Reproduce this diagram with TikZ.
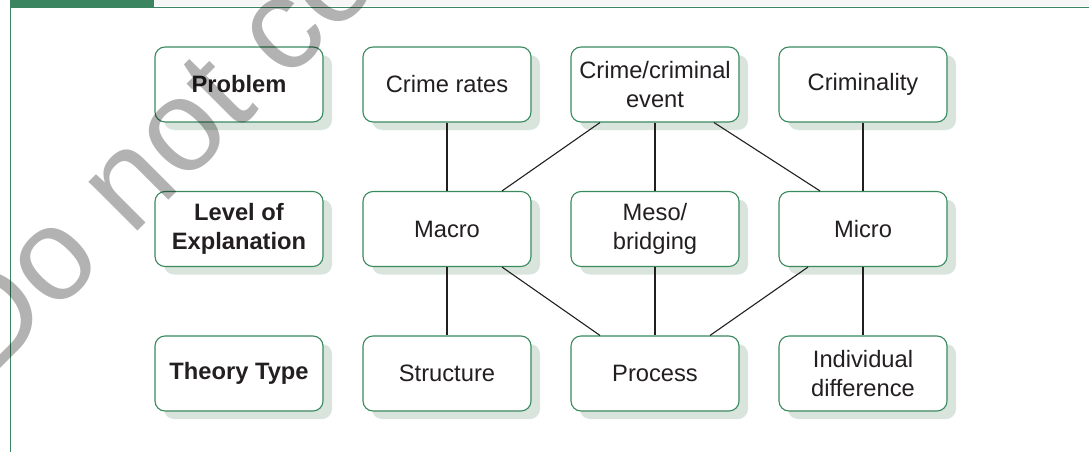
\documentclass[tikz,border=0pt]{standalone}
\usepackage{fontspec}
\setmainfont{Liberation Sans}
\usetikzlibrary{calc,shadows}
\definecolor{framegreen}{HTML}{3B8560}
\definecolor{boxgreen}{HTML}{3A8A5E}
\definecolor{shadowgreen}{HTML}{D9E5DC}
\definecolor{inkdark}{HTML}{231F20}
\tikzset{
  cell/.style={draw=boxgreen, line width=1.1pt, fill=white, rounded corners=10pt,
    minimum width=168pt, minimum height=75pt, inner sep=0pt, align=center,
    text=inkdark, font=\fontsize{23.7}{28.5}\selectfont,
    drop shadow={shadow xshift=9pt, shadow yshift=-8pt, fill=shadowgreen, opacity=1}},
  rowhead/.style={cell, font=\fontsize{23.7}{29}\selectfont\bfseries},
  link/.style={draw=inkdark, line width=1.1pt}
}
\begin{document}
\begin{tikzpicture}[x=1pt,y=-1pt]
  \useasboundingbox (0,0) rectangle (1089,452);
  \clip (0,0) rectangle (1089,452);
  \fill[white] (0,0) rectangle (1089,452);

  % frame: tab, top rule and left rule
  \fill[gray!7] (154,0) rectangle (1089,6.5);
  \fill[framegreen] (10,0) rectangle (154,8.5);
  \draw[framegreen, line width=1.6pt] (154,7.6) -- (1089,7.6);
  \draw[framegreen, line width=1pt] (10.6,0) -- (10.6,452);

  % row headings
  \node[rowhead] (problem) at (239,84.5) {Problem};
  \node[rowhead] (level)   at (239,229)  {Level of\\Explanation};
  \node[rowhead] (theory)  at (239,373.5) {Theory Type};

  % problems
  \node[cell] (rates)  at (447,84.5) {Crime rates};
  \node[cell] (event)  at (655,84.5) {Crime/criminal\\event};
  \node[cell] (crimty) at (863,84.5) {Criminality};

  % levels of explanation
  \node[cell] (macro) at (447,229) {Macro};
  \node[cell] (meso)  at (655,229) {Meso/\\bridging};
  \node[cell] (micro) at (863,229) {Micro};

  % theory types
  \node[cell] (struct)  at (447,373.5) {Structure};
  \node[cell] (process) at (655,373.5) {Process};
  \node[cell] (indiv)   at (863,373.5) {Individual\\difference};

  % connectors
  \draw[link] (rates.south) -- (macro.north);
  \draw[link] ([xshift=-55pt]event.south) -- ([xshift=55pt]macro.north);
  \draw[link] (event.south) -- (meso.north);
  \draw[link] ([xshift=59pt]event.south) -- ([xshift=-43pt]micro.north);
  \draw[link] (crimty.south) -- (micro.north);

  \draw[link] (macro.south) -- (struct.north);
  \draw[link] ([xshift=55pt]macro.south) -- ([xshift=-55pt]process.north);
  \draw[link] (meso.south) -- (process.north);
  \draw[link] ([xshift=-55pt]micro.south) -- ([xshift=55pt]process.north);
  \draw[link] (micro.south) -- (indiv.north);

  % watermark
  \node[rotate=45, anchor=base west, inner sep=0pt, text=black, text opacity=0.3,
        font=\fontsize{131}{131}\selectfont] (mark) at (-12.6,381.6)
        {Do not copy, post, or distribute};
\end{tikzpicture}
\end{document}
